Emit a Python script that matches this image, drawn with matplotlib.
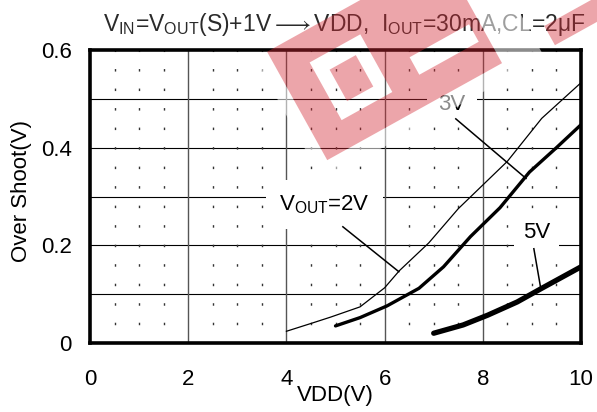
import numpy as np
import matplotlib
matplotlib.use('Agg')
import matplotlib.pyplot as plt
from matplotlib.path import Path
from matplotlib.patches import PathPatch

plt.rcParams['font.family'] = ['Liberation Sans', 'DejaVu Sans']
plt.rcParams['mathtext.fontset'] = 'custom'
plt.rcParams['mathtext.rm'] = 'Liberation Sans'
plt.rcParams['mathtext.it'] = 'Liberation Sans'
plt.rcParams['mathtext.bf'] = 'Liberation Sans:bold'

# ---------------- data ----------------
vdd_2v = [4.0, 4.5, 4.9, 5.5, 6.0, 6.3, 6.9, 7.5, 8.5, 9.2, 10.0]
os_2v = [0.024, 0.040, 0.053, 0.074, 0.113, 0.148, 0.205, 0.275, 0.372, 0.460, 0.533]

vdd_3v = [5.0, 5.5, 6.05, 6.7, 7.2, 7.75, 8.35, 8.95, 9.5, 10.0]
os_3v = [0.035, 0.052, 0.076, 0.112, 0.156, 0.218, 0.277, 0.350, 0.400, 0.447]

vdd_5v = [7.0, 7.6, 8.1, 8.7, 9.2, 10.0]
os_5v = [0.020, 0.037, 0.057, 0.084, 0.112, 0.156]

x_ticks = [0, 2, 4, 6, 8, 10]
x_tick_labels = ['0', '2', '4', '6', '8', '10']
y_ticks = [0, 0.2, 0.4, 0.6]
y_tick_labels = ['0', '0.2', '0.4', '0.6']
h_grid = [0.1, 0.2, 0.3, 0.4, 0.5]
v_grid = [2, 4, 6, 8]
v_dots = [0.5, 1.0, 1.5, 2.5, 3.0, 3.5, 4.5, 5.0, 5.5, 6.5, 7.0, 7.5, 8.5, 9.0, 9.5]

title = (r'$\mathrm{V_{IN}}$=$\mathrm{V_{OUT}}$(S)+1V$\longrightarrow$VDD,  '
         r'$\mathrm{I_{OUT}}$=30mA,CL=2μF')
x_label = 'VDD(V)'
y_label = 'Over Shoot(V)'

# label text, text position, pointer start, pointer end
label_2v = (r'$\mathrm{V_{OUT}}$=2V', (4.77, 0.283), (5.15, 0.238), (6.29, 0.146))
label_3v = ('3V', (7.37, 0.488), (7.45, 0.459), (8.88, 0.337))
label_5v = ('5V', (9.1, 0.226), (9.04, 0.193), (9.18, 0.112))

# ---------------- figure ----------------
W, H = 597, 412
fig = plt.figure(figsize=(W / 100, H / 100), dpi=100)
ax = fig.add_axes([90 / W, 1 - 343 / H, 491 / W, 293 / H])
ax.set_xlim(0, 10)
ax.set_ylim(0, 0.6)

for y in h_grid:
    ax.axhline(y, color='black', lw=0.8, zorder=1)
for x in v_grid:
    ax.axvline(x, color='#555555', lw=1.0, zorder=1)
for x in v_dots:
    ax.axvline(x, color='#333333', lw=1.0, ls=(0.9, (1.8, 12.25)), zorder=1)

ax.plot(vdd_2v, os_2v, color='black', lw=0.9, zorder=3, solid_joinstyle='round')
ax.plot(vdd_3v, os_3v, color='black', lw=2.4, zorder=3, solid_capstyle='round',
        solid_joinstyle='round')
ax.plot(vdd_5v, os_5v, color='black', lw=3.8, zorder=3, solid_capstyle='round',
        solid_joinstyle='round')

for (txt, pos, p0, p1), pad in zip([label_2v, label_3v, label_5v], [0.6, 0.5, 0.4]):
    ax.text(pos[0], pos[1], txt, fontsize=16, ha='center', va='center', zorder=2.5,
            bbox=dict(boxstyle='square,pad=%g' % pad, fc='white', ec='none'))
    ax.plot([p0[0], p1[0]], [p0[1], p1[1]], color='black', lw=1.1, zorder=3)

ax.set_xticks(x_ticks)
ax.set_xticklabels(x_tick_labels)
ax.set_yticks(y_ticks)
ax.set_yticklabels(y_tick_labels)
ax.tick_params(length=0, labelsize=16, colors='black')
ax.tick_params(axis='x', pad=19)
ax.tick_params(axis='y', pad=13)

for s in ax.spines.values():
    s.set_linewidth(2.6)
    s.set_zorder(4)

ax.set_xlabel(x_label, fontsize=16)
ax.xaxis.set_label_coords(0.5, -0.145)
ax.set_ylabel(y_label, fontsize=16, va='center')
ax.yaxis.set_label_coords(-0.14, 0.52)

fig.text(344 / W, 1 - 25 / H, title, ha='center', va='center', fontsize=16.5, color='#2a2a2a')

# ---------------- watermark (decorative) ----------------
O = np.array([270.0, 57.0])
U = np.array([0.874, -0.485])
V = np.array([0.485, 0.874])


def uv(u, v):
    p = O + u * U + v * V
    return (p[0] / W, 1 - p[1] / H)


def rect(u0, u1, v0, v1, ccw=True):
    pts = [uv(u0, v0), uv(u1, v0), uv(u1, v1), uv(u0, v1)]
    return pts if ccw else pts[::-1]


def poly_path(polys):
    verts, codes = [], []
    for pts in polys:
        verts += pts + [pts[0]]
        codes += [Path.MOVETO] + [Path.LINETO] * (len(pts) - 1) + [Path.CLOSEPOLY]
    return Path(verts, codes)


halo = poly_path([rect(-14, 240, -6, 134), rect(0, 200, -6, 118, False)])
red = poly_path([rect(0, 200, -6, 118), rect(32, 90, 24, 90, False), rect(46, 76, 40, 76),
                 rect(122, 190, 68, 88, False), rect(255, 330, 106, 128)])
fig.add_artist(PathPatch(halo, transform=fig.transFigure, fc='white', ec='none', alpha=0.55, zorder=9))
fig.add_artist(PathPatch(red, transform=fig.transFigure, fc='#d42a35', ec='none', alpha=0.42, zorder=10))

fig.savefig('out.png', dpi=100)
